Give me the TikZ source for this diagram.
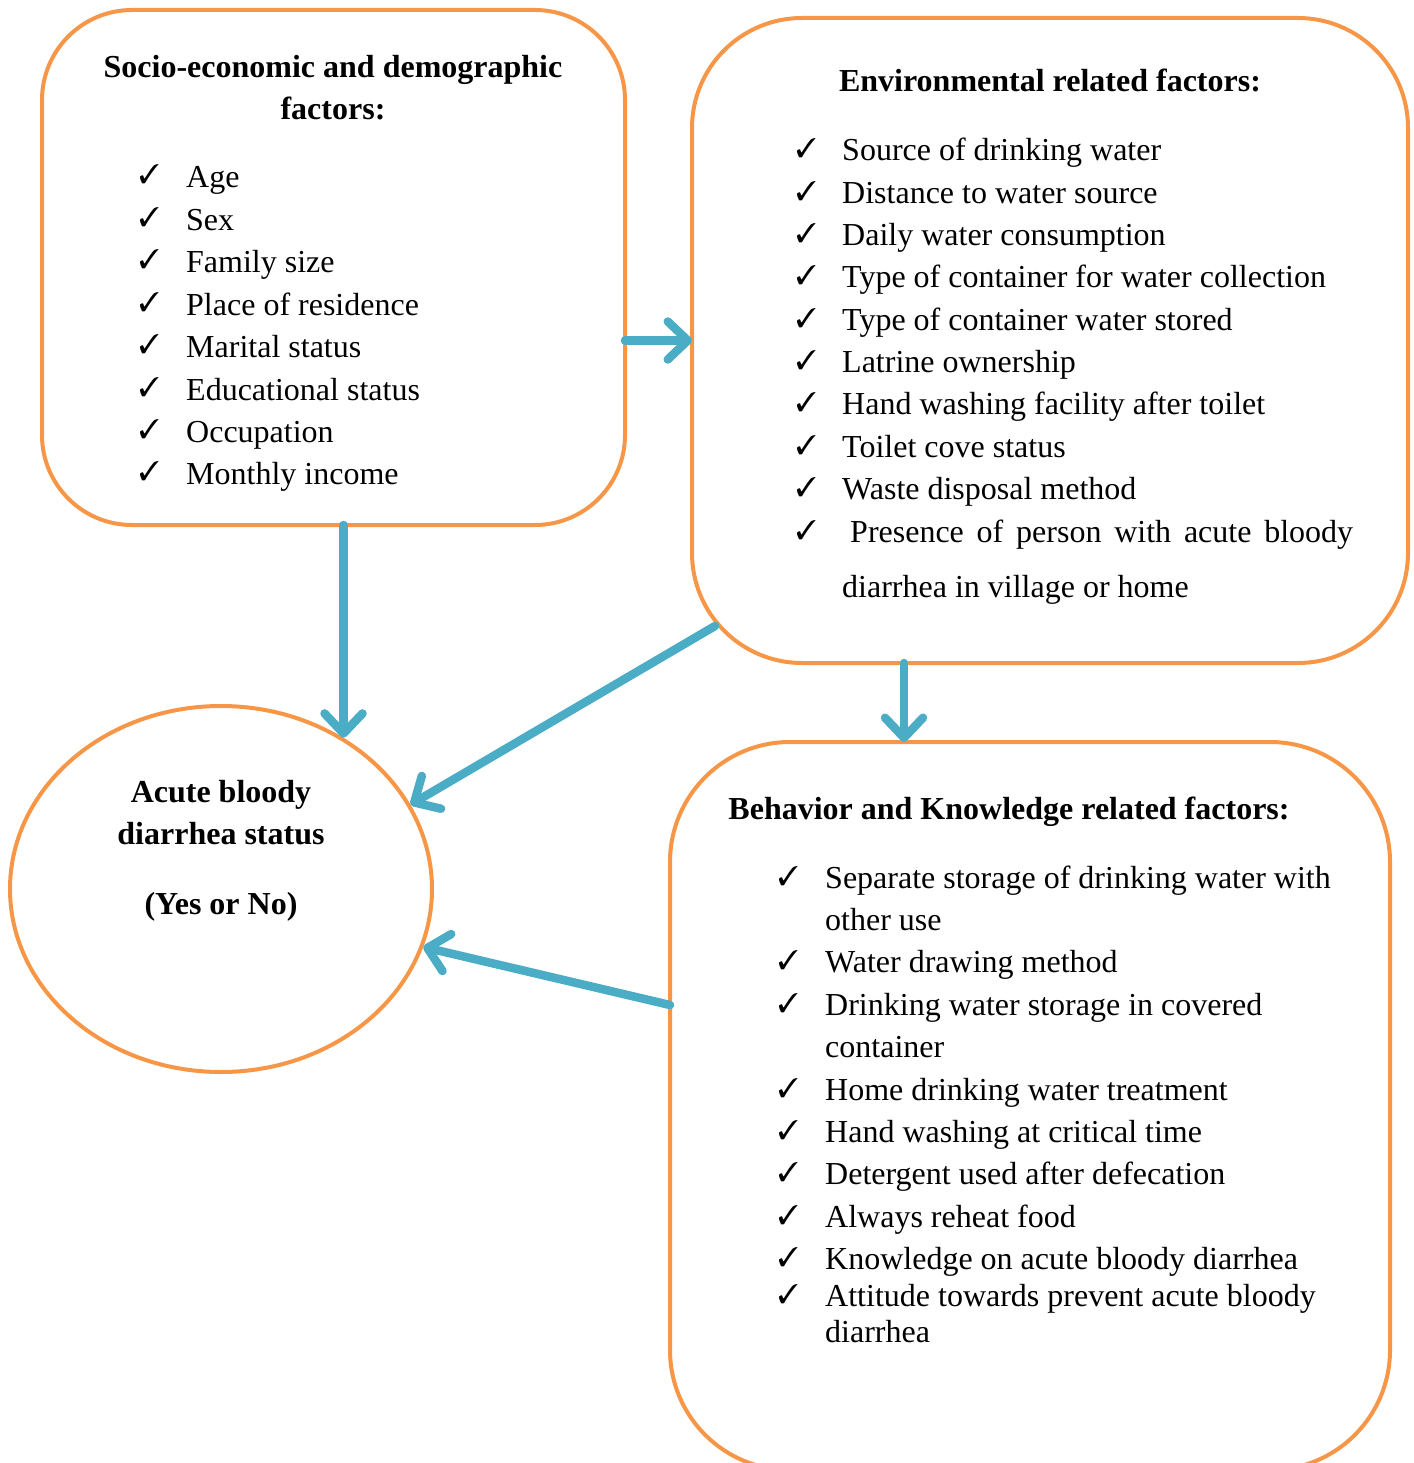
\documentclass[tikz,border=0pt]{standalone}
\usepackage{fontspec}
\setmainfont{Liberation Serif}
\usepackage{pifont}
\usetikzlibrary{shapes.geometric,arrows.meta}
\definecolor{bord}{HTML}{F79646}
\definecolor{arr}{HTML}{4BACC6}
\begin{document}
\begin{tikzpicture}[x=1pt,y=-1pt,
  frame/.style={draw=bord,line width=4pt,inner sep=0pt,outer sep=0pt,anchor=north west},
  link/.style={draw=arr,line width=8.5pt,line cap=round,-{Straight Barb[length=20pt,width=38pt,round]}},
  itm/.style={anchor=base west,inner sep=0pt,font=\fontsize{32}{38}\selectfont},
  ttl/.style={anchor=base,inner sep=0pt,font=\fontsize{32}{38}\selectfont\bfseries},
  chk/.style={anchor=base west,inner sep=0pt,font=\fontsize{27}{30}\selectfont}]
\useasboundingbox (0,0) rectangle (1413,1463);
% boxes
\node[frame,rounded corners=90pt,minimum width=583pt,minimum height=515pt] (soc) at (42,10) {};
\node[frame,rounded corners=110pt,minimum width=716pt,minimum height=645pt] (env) at (692,18) {};
\node[frame,rounded corners=120pt,minimum width=720pt,minimum height=728pt] (beh) at (670,742) {};
\node[draw=bord,line width=4pt,ellipse,inner sep=0pt,minimum width=422pt,minimum height=366pt] (out) at (221,889) {};
% box 1 text
\node[ttl] (t1a) at (333,78) {Socio-economic and demographic};
\node[ttl] (t1b) at (333,120) {factors:};
\foreach \t [count=\i from 0] in {Age,Sex,Family size,Place of residence,Marital status,Educational status,Occupation,Monthly income}{
  \node[chk] (c1-\i) at (139,{184+42.4*\i}) {\ding{51}};
  \node[itm] (s1-\i) at (186,{188+42.4*\i}) {\t};
}
% box 2 text
\node[ttl] (t2) at (1050,92) {Environmental related factors:};
\foreach \t [count=\i from 0] in {Source of drinking water,Distance to water source,Daily water consumption,Type of container for water collection,Type of container water stored,Latrine ownership,Hand washing facility after toilet,Toilet cove status,Waste disposal method}{
  \node[chk] (c2-\i) at (796,{158+42.3*\i}) {\ding{51}};
  \node[itm] (s2-\i) at (842,{161+42.3*\i}) {\t};
}
\node[chk] (c2-9) at (796,539) {\ding{51}};
\node[itm] (s2-9) at (850,542) {\makebox[503pt][s]{Presence of person with acute bloody}};
\node[itm] (s2-10) at (842,597) {diarrhea in village or home};
% box 3 text
\node[ttl] (t3) at (1009,819) {Behavior and Knowledge related factors:};
\foreach \t/\y [count=\i] in {Separate storage of drinking water with/888,Water drawing method/972,Drinking water storage in covered/1015,Home drinking water treatment/1100,Hand washing at critical time/1142,Detergent used after defecation/1184,Always reheat food/1227,Knowledge on acute bloody diarrhea/1269,Attitude towards prevent acute bloody/1306}{
  \node[chk] (c3-\i) at (778,{\y-3}) {\ding{51}};
  \node[itm] (s3-\i) at (825,\y) {\t};
}
\node[itm] (s3-1b) at (825,930) {other use};
\node[itm] (s3-3b) at (825,1057) {container};
\node[itm] (s3-9b) at (825,1342) {diarrhea};
% ellipse text
\node[ttl] (e1) at (221,802) {Acute bloody};
\node[ttl] (e2) at (221,844) {diarrhea status};
\node[ttl] (e3) at (221,914) {(Yes or No)};
% arrows
\draw[link] (soc.east |- env.west) -- (env.west);
\draw[link] (soc.south -| out.51) -- (out.51);
\draw[link] ([shift={(23,-37)}]env.south west) -- (out.24);
\draw[link] ([xshift=-146pt]env.south) -- ([xshift=-146pt]env.south |- beh.north);
\draw[link] ([yshift=101pt]beh.west) -- (out.-16);
\end{tikzpicture}
\end{document}
